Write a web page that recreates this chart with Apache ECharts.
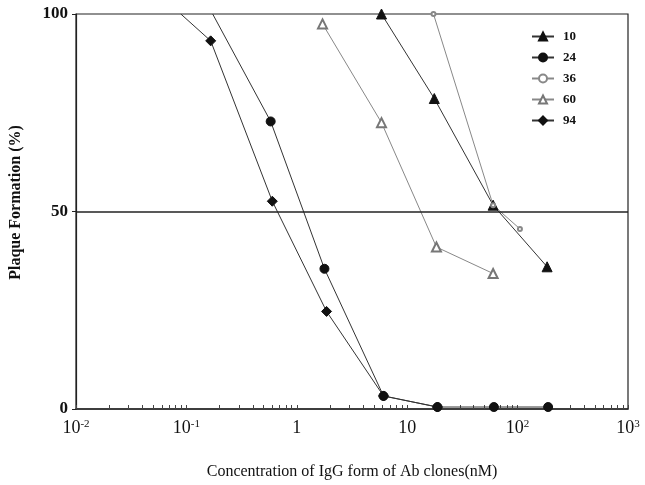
<!DOCTYPE html>
<html>
<head>
<meta charset="utf-8">
<script src="https://cdn.jsdelivr.net/npm/echarts@6/dist/echarts.min.js"></script>
<style>
html,body{margin:0;padding:0;background:#fff;}
#chart{width:645px;height:485px;}
</style>
</head>
<body>
<div id="chart"></div>
<script>
// concentration (nM) and plaque formation (%) per clone
var conc10 = [5.85, 17.6, 60, 185];
var plaque10 = [100, 78.6, 51.6, 36];
var conc24 = [0.173, 0.58, 1.78, 6.1, 18.8, 61, 189];
var plaque24 = [100, 72.8, 35.5, 3.3, 0.5, 0.5, 0.5];
var conc36 = [17.3, 60, 105];
var plaque36 = [100, 51.6, 45.6];
var conc60 = [1.71, 5.85, 18.4, 60];
var plaque60 = [97.5, 72.5, 41, 34.3];
var conc94 = [0.089, 0.166, 0.60, 1.86, 6.1, 18.8];
var plaque94 = [100, 93.2, 52.6, 24.7, 3.3, 0.5];
var cloneNames = ['10', '24', '36', '60', '94'];
var decadeTicks = [0.01, 0.1, 1, 10, 100, 1000];
var decadeLabels = ['10{sup|-2}', '10{sup|-1}', '1', '10', '10{sup|2}', '10{sup|3}'];
var refLevel = 50;

var tickValues = [];
for (var d = 0; d < decadeTicks.length; d++) {
	tickValues.push(decadeTicks[d]);
	if (d < decadeTicks.length - 1) {
		for (var m = 2; m <= 9; m++) {
			tickValues.push(+(decadeTicks[d] * m).toPrecision(3));
		}
	}
}

function pairs(xs, ys) {
	return xs.map(function (x, i) { return [x, ys[i]]; });
}

var serif = '"Liberation Serif", "DejaVu Serif", serif';
var dark = '#222';

function mkSeries(name, xs, ys, symbol, size, lineColor, markColor, hideFirst) {
	return {
		name: name,
		type: 'line',
		data: pairs(xs, ys),
		symbol: symbol,
		symbolSize: hideFirst ? function (v, p) { return p.dataIndex === 0 ? 0 : size; } : size,
		showAllSymbol: true,
		clip: true,
		lineStyle: { color: lineColor, width: 1 },
		itemStyle: { color: markColor, borderColor: markColor, borderWidth: 1 },
		emphasis: { disabled: true },
		z: 3
	};
}

var series = [
	mkSeries('10', conc10, plaque10, 'triangle', 10, '#333', '#111', false),
	mkSeries('24', conc24, plaque24, 'circle', 9, '#333', '#111', true),
	mkSeries('36', conc36, plaque36, 'emptyCircle', 4, '#888', '#888', false),
	mkSeries('60', conc60, plaque60, 'emptyTriangle', 9, '#888', '#777', false),
	mkSeries('94', conc94, plaque94, 'diamond', 10, '#333', '#111', true)
];
series[0].markLine = {
	silent: true,
	symbol: ['none', 'none'],
	label: { show: false },
	lineStyle: { color: dark, width: 1.5, type: 'solid' },
	data: [{ yAxis: refLevel }]
};

var myChart = echarts.init(document.getElementById('chart'));
myChart.setOption({
	animation: false,
	backgroundColor: '#fff',
	grid: {
		left: 75, right: 17, top: 14, bottom: 74,
		show: true, borderColor: dark, borderWidth: 1.2
	},
	legend: {
		data: cloneNames,
		orient: 'vertical',
		left: 526,
		top: 25,
		itemWidth: 22,
		itemHeight: 10,
		itemGap: 8,
		textStyle: { fontFamily: serif, fontWeight: 'bold', fontSize: 13, color: '#111', padding: [0, 0, 0, 4] }
	},
	xAxis: {
		type: 'log',
		logBase: 10,
		min: 0.01,
		max: 1000,
		name: 'Concentration of IgG form of Ab clones(nM)',
		nameLocation: 'middle',
		nameGap: 55,
		nameTextStyle: { fontFamily: serif, fontSize: 16, color: '#111' },
		axisLine: { lineStyle: { color: dark, width: 1.5 } },
		axisTick: { show: true, inside: true, length: 4, customValues: tickValues, lineStyle: { color: '#444' } },
		splitLine: { show: false },
		axisLabel: {
			margin: 10,
			fontFamily: serif,
			fontSize: 18,
			color: '#111',
			customValues: decadeTicks,
			formatter: function (v) {
				for (var i = 0; i < decadeTicks.length; i++) {
					if (Math.abs(Math.log10(v) - Math.log10(decadeTicks[i])) < 1e-6) return decadeLabels[i];
				}
				return '';
			},
			rich: {
				sup: { fontFamily: serif, fontSize: 11, color: '#111', verticalAlign: 'top', padding: [0, 0, 8, 0] }
			}
		}
	},
	yAxis: {
		type: 'value',
		min: 0,
		max: 100,
		interval: 50,
		name: 'Plaque Formation (%)',
		nameLocation: 'middle',
		nameGap: 52,
		nameTextStyle: { fontFamily: serif, fontWeight: 'bold', fontSize: 16, color: '#111', padding: [0, 0, 0, 18] },
		axisLine: { show: true, lineStyle: { color: dark, width: 1.2 } },
		axisTick: { show: true, length: 4, lineStyle: { color: dark } },
		splitLine: { show: false },
		axisLabel: { margin: 8, fontFamily: serif, fontWeight: 'bold', fontSize: 17, color: '#111' }
	},
	series: series
});
</script>
</body>
</html>
